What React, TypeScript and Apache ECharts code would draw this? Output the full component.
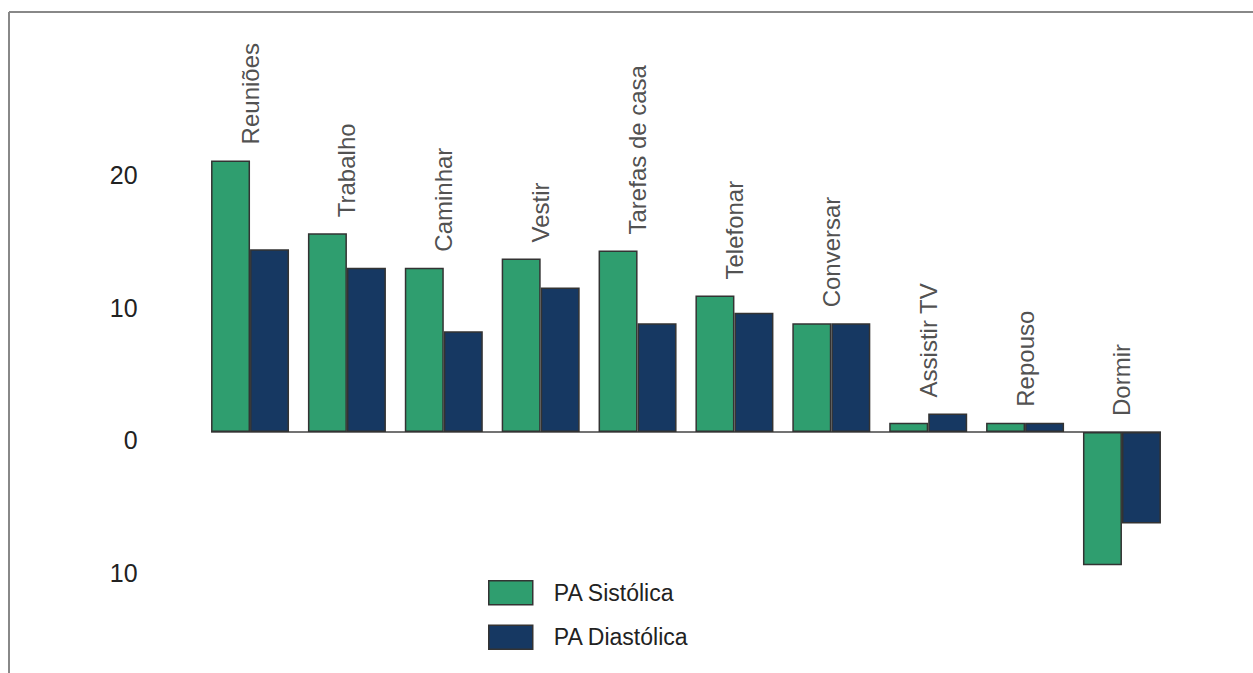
import React, { useEffect, useRef } from "react";
import * as echarts from "echarts";

const categories = ["Reuniões", "Trabalho", "Caminhar", "Vestir", "Tarefas de casa", "Telefonar", "Conversar", "Assistir TV", "Repouso", "Dormir"];
const sistolica = [20.5, 15.0, 12.4, 13.1, 13.7, 10.3, 8.2, 0.7, 0.7, -10.3];
const diastolica = [13.8, 12.4, 7.6, 10.9, 8.2, 9.0, 8.2, 1.4, 0.7, -6.9];
const seriesNames = ["PA Sistólica", "PA Diastólica"];
const yTicks = { min: -10, max: 30, interval: 10 };

const FONT = '"Liberation Sans", Arial, Helvetica, sans-serif';
const GREEN = "#2f9e6f";
const NAVY = "#163862";
const BAR_W = 39;

export default function App() {
  const ref = useRef<HTMLDivElement>(null);
  useEffect(() => {
    if (!ref.current) return;
    const chart = echarts.init(ref.current, null, { renderer: "svg" });
    const labelTops = categories.map((_, i) => Math.max(sistolica[i], diastolica[i], 0));
    chart.setOption({
      animation: false,
      backgroundColor: "#ffffff",
      grid: { left: 201.6, right: 82.6, top: 34.5, bottom: 108.5 },
      legend: {
        data: seriesNames,
        orient: "vertical",
        left: 483,
        top: 575,
        itemWidth: 44,
        itemHeight: 24,
        itemGap: 19,
        icon: "rect",
        textStyle: { fontFamily: FONT, fontSize: 23, color: "#222", padding: [0, 0, 0, 16] },
        itemStyle: { borderColor: "#333", borderWidth: 1.5 },
      },
      xAxis: {
        type: "category",
        data: categories,
        boundaryGap: true,
        axisLine: { show: false },
        axisTick: { show: false },
        axisLabel: { show: false },
        splitLine: { show: false },
      },
      yAxis: {
        type: "value",
        min: yTicks.min,
        max: yTicks.max,
        interval: yTicks.interval,
        axisLine: { show: false },
        axisTick: { show: false },
        splitLine: { show: false },
        axisLabel: {
          margin: 64,
          fontFamily: FONT,
          fontSize: 25,
          color: "#222",
          verticalAlign: "top",
          lineHeight: 16,
          formatter: (v: number) => (v >= yTicks.max ? "" : String(Math.abs(v))),
        },
      },
      series: [
        {
          name: seriesNames[0],
          type: "bar",
          data: sistolica,
          barWidth: BAR_W,
          barGap: "0%",
          itemStyle: { color: GREEN, borderColor: "#333", borderWidth: 1.5 },
        },
        {
          name: seriesNames[1],
          type: "bar",
          data: diastolica,
          barWidth: BAR_W,
          barGap: "0%",
          itemStyle: { color: NAVY, borderColor: "#333", borderWidth: 1.5 },
        },
        {
          name: "labels",
          type: "scatter",
          data: labelTops,
          symbolSize: 0,
          silent: true,
          label: {
            show: true,
            position: "top",
            distance: 16,
            rotate: 90,
            align: "left",
            verticalAlign: "middle",
            fontFamily: FONT,
            fontSize: 24,
            color: "#222",
            formatter: (p: any) => categories[p.dataIndex],
          },
        },
      ],
    });
    const pFirst = chart.convertToPixel({ gridIndex: 0 }, [0, 0]) as number[];
    const pLast = chart.convertToPixel({ gridIndex: 0 }, [categories.length - 1, 0]) as number[];
    chart.setOption({
      graphic: [
        { type: "line", shape: { x1: 9, y1: 12, x2: 1253, y2: 12 }, style: { stroke: "#888", lineWidth: 2 } },
        { type: "line", shape: { x1: 9, y1: 12, x2: 9, y2: 673 }, style: { stroke: "#888", lineWidth: 2 } },
        {
          type: "line",
          z: 1,
          shape: { x1: pFirst[0] - BAR_W, y1: pFirst[1], x2: pLast[0] + BAR_W, y2: pLast[1] },
          style: { stroke: "#444", lineWidth: 1.5 },
        },
      ],
    });
    return () => chart.dispose();
  }, []);
  return <div ref={ref} style={{ position: "absolute", left: 0, top: 0, width: 1253, height: 673 }} />;
}
